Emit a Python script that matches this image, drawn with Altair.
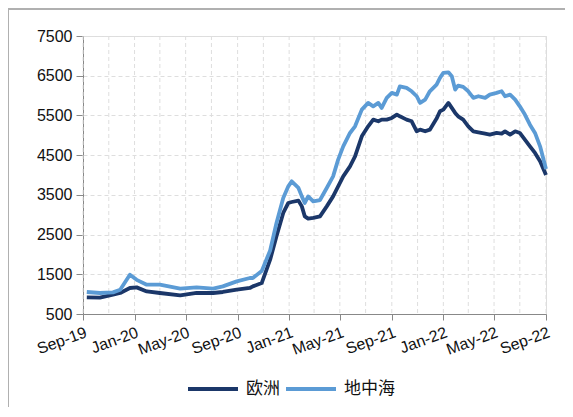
import altair as alt
import pandas as pd

# ---- data (weekly freight index, approx.) ----
dates = [
    "2019-09-10", "2019-10-11", "2019-11-11", "2019-11-28", "2019-12-21", "2020-01-06",
    "2020-01-30", "2020-03-01", "2020-04-18", "2020-05-27", "2020-07-05", "2020-07-28",
    "2020-08-30", "2020-09-30", "2020-10-07", "2020-10-28", "2020-11-17", "2020-12-02",
    "2020-12-18", "2020-12-30", "2021-01-07", "2021-01-23", "2021-01-31", "2021-02-07",
    "2021-02-15", "2021-02-27", "2021-03-15", "2021-03-31", "2021-04-15", "2021-04-27",
    "2021-05-09", "2021-05-25", "2021-06-06", "2021-06-22", "2021-07-07", "2021-07-19",
    "2021-07-31", "2021-08-08", "2021-08-20", "2021-09-01", "2021-09-13", "2021-09-20",
    "2021-10-06", "2021-10-18", "2021-10-30", "2021-11-07", "2021-11-19", "2021-11-30",
    "2021-12-16", "2021-12-24", "2022-01-01", "2022-01-13", "2022-01-21", "2022-01-29",
    "2022-02-05", "2022-02-17", "2022-03-01", "2022-03-13", "2022-03-25", "2022-04-10",
    "2022-04-21", "2022-05-07", "2022-05-19", "2022-05-27", "2022-06-08", "2022-06-20",
    "2022-07-01", "2022-07-13", "2022-07-25", "2022-08-06", "2022-08-18", "2022-09-01",
]
europe = [
    918, 910, 986, 1029, 1155, 1170,
    1069, 1029, 969, 1029, 1029, 1054,
    1112, 1155, 1195, 1280, 1868, 2455,
    3044, 3296, 3320, 3354, 3210, 2958,
    2900, 2918, 2958, 3210, 3462, 3714,
    3966, 4218, 4470, 4974, 5226, 5394,
    5352, 5394, 5394, 5437, 5521, 5478,
    5394, 5352, 5100, 5142, 5100, 5142,
    5420, 5604, 5646, 5815, 5689, 5563,
    5478, 5394, 5226, 5100, 5075, 5042,
    5017, 5059, 5042, 5100, 5017, 5100,
    5059, 4890, 4722, 4555, 4344, 4000,
]
mediterranean = [
    1054, 1029, 1044, 1112, 1490, 1360,
    1238, 1238, 1137, 1170, 1137, 1195,
    1321, 1407, 1407, 1580, 2100, 2792,
    3422, 3714, 3840, 3674, 3462, 3296,
    3462, 3336, 3370, 3674, 3966, 4387,
    4722, 5058, 5226, 5646, 5815, 5730,
    5815, 5689, 5941, 6067, 6024, 6233,
    6193, 6108, 5983, 5815, 5899, 6108,
    6276, 6444, 6570, 6586, 6486, 6150,
    6250, 6218, 6108, 5941, 5983, 5941,
    6024, 6067, 6108, 5983, 6024, 5899,
    5730, 5521, 5268, 5059, 4722, 4150,
]
series_names = ["欧洲", "地中海"]
series_colors = ["#1b3769", "#5b9bd5"]
y_ticks = [500, 1500, 2500, 3500, 4500, 5500, 6500, 7500]
x_label_dates = ["2019-09-01", "2020-01-01", "2020-05-01", "2020-09-01", "2021-01-01",
                 "2021-05-01", "2021-09-01", "2022-01-01", "2022-05-01", "2022-09-01"]
x_grid_dates = ["2019-09-01", "2019-11-01", "2020-01-01", "2020-03-01", "2020-05-01",
                "2020-07-01", "2020-09-01", "2020-11-01", "2021-01-01", "2021-03-01",
                "2021-05-01", "2021-07-01", "2021-09-01", "2021-11-01", "2022-01-01",
                "2022-03-01", "2022-05-01", "2022-07-01", "2022-09-01"]

n = len(dates)
df = pd.DataFrame({
    "date": dates * 2,
    "value": europe + mediterranean,
    "route": [series_names[0]] * n + [series_names[1]] * n,
    "order": [0] * n + [1] * n,
})
grid_df = pd.DataFrame({"date": x_grid_dates})

def utc_dt(s):
    y, m, d = (int(p) for p in s.split("-"))
    return alt.DateTime(year=y, month=m, date=d, utc=True)

x_scale = alt.Scale(type="utc", domain=[utc_dt(x_label_dates[0]), utc_dt(x_label_dates[-1])])
y_scale = alt.Scale(domain=[500, 7500], nice=False, zero=False)

FONT = "Liberation Sans"

x_axis = alt.Axis(
    values=[utc_dt(s) for s in x_label_dates],
    labelExpr="utcFormat(datum.value, '%b-%y')",
    grid=False,
    labelAngle=340,
    labelAlign="right",
    labelBaseline="top",
    labelPadding=4,
    labelFont=FONT,
    labelFontSize=16,
    labelColor="#111111",
    tickSize=6,
    tickColor="#888888",
    domainColor="#888888",
    labelOverlap=False,
    labelFlush=False,
    labelBound=False,
)

grid = alt.Chart(grid_df).mark_rule(color="#dedede", strokeDash=[4, 3], strokeWidth=1).encode(
    x=alt.X("date:T", scale=x_scale, title=None, axis=x_axis)
)

lines = alt.Chart(df).mark_line(strokeWidth=3.8, strokeJoin="round").encode(
    x=alt.X("date:T", scale=x_scale, title=None, axis=x_axis),
    y=alt.Y(
        "value:Q",
        scale=y_scale,
        title=None,
        axis=alt.Axis(
            values=y_ticks,
            format="d",
            grid=True,
            gridDash=[4, 3],
            gridColor="#dedede",
            labelFont=FONT,
            labelFontSize=16,
            labelColor="#111111",
            labelPadding=4,
            tickSize=7,
            tickColor="#888888",
            domainColor="#888888",
            labelOverlap=False,
            labelFlush=False,
        ),
    ),
    color=alt.Color(
        "route:N",
        scale=alt.Scale(domain=series_names, range=series_colors),
        legend=alt.Legend(
            title=None,
            orient="none",
            legendX=103,
            legendY=326,
            direction="horizontal",
            symbolType="stroke",
            symbolSize=2500,
            symbolStrokeWidth=4,
            labelFont="Noto Sans CJK SC",
            labelFontSize=17,
            labelColor="#111111",
            labelOffset=6,
            columnPadding=-2,
        ),
    ),
    order=alt.Order("order:Q"),
)

frame_top = alt.Chart(grid_df).mark_rule(color="#b0b0b0", strokeWidth=1.5).encode(
    x=alt.value(-75), x2=alt.value(500), y=alt.value(-27)
)
frame_left = alt.Chart(grid_df).mark_rule(color="#b0b0b0", strokeWidth=1.5).encode(
    x=alt.value(-75), y=alt.value(-27), y2=alt.value(400)
)

chart = alt.layer(grid, lines, frame_top, frame_left).properties(
    width=463,
    height=278,
    autosize=alt.AutoSizeParams(type="none"),
    padding={"left": 75, "top": 28, "right": 19, "bottom": 93},
).configure_view(stroke=None).configure(background="white")

chart.save("out.html", embed_options={"renderer": "svg", "actions": False})
